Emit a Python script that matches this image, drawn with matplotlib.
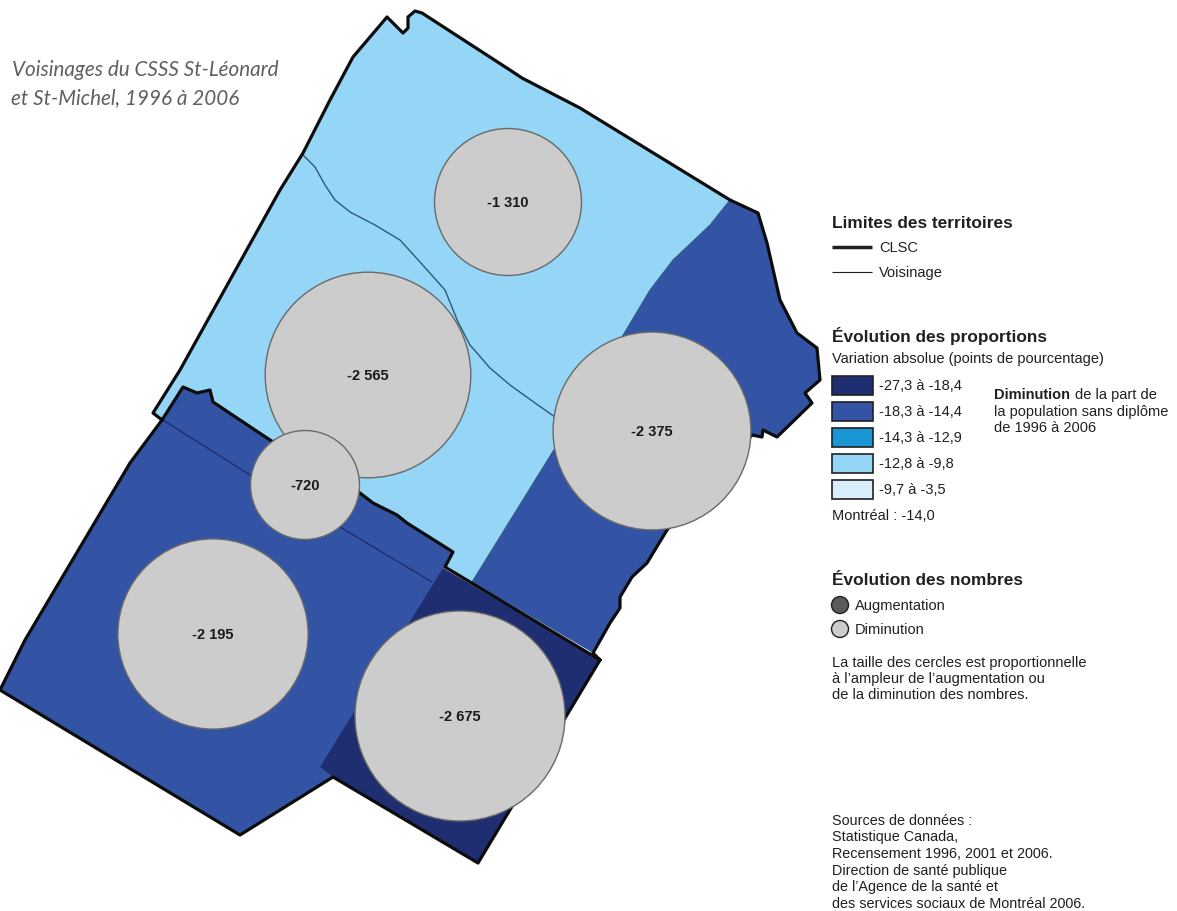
import numpy as np
import matplotlib.pyplot as plt
from matplotlib.patches import Polygon, Circle, Rectangle

plt.rcParams['font.family'] = ['Liberation Sans', 'DejaVu Sans']

# map shapes (pixel coords)
north_shape = [(153,413),(180,370),(280,190),(303,153),(330,100),(353,57),(387,17),(403,33),(408,28),(408,17),
               (415,11),(422,13),(513,72),(522,78),(580,108),(730,200),(710,225),(673,260),(650,290),(622,337),
               (555,448),(472,582),(445,567),(453,552),(407,523),(397,515),(373,503),(360,493),(270,440),(240,420),
               (213,402),(210,390),(197,393),(183,387),(162,420)]
east_shape = [(730,200),(758,213),(767,243),(780,300),(797,333),(817,348),(820,380),(805,393),(812,403),(777,437),
              (763,430),(762,437),(752,435),(667,530),(647,563),(632,577),(620,597),(620,608),(610,623),(593,653),
              (472,582),(555,448),(622,337),(650,290),(673,260),(710,225)]
west_shape = [(162,420),(183,387),(197,393),(210,390),(213,402),(240,420),(270,440),(360,493),(373,503),(397,515),
              (407,523),(453,552),(445,567),(443,568),(500,700),(333,778),(240,835),(0,690),(25,640),(130,463)]
south_shape = [(443,568),(600,660),(478,863),(333,777),(320,767)]

# thick CLSC limits
clsc_outer = [(162,420),(153,413),(180,370),(280,190),(303,153),(330,100),(353,57),(387,17),(403,33),(408,28),(408,17),
              (415,11),(422,13),(513,72),(522,78),(580,108),(730,200),(758,213),(767,243),(780,300),(797,333),(817,348),
              (820,380),(805,393),(812,403),(777,437),(763,430),(762,437),(752,435),(667,530),(647,563),(632,577),
              (620,597),(620,608),(610,623),(593,653),(600,660),(478,863),(333,777),(240,835),(0,690),(25,640),
              (130,463),(162,420),(183,387),(197,393),(210,390),(213,402),(240,420),(270,440),(360,493),(373,503),
              (397,515),(407,523),(453,552),(445,567),(600,660)]

# thin neighbourhood limits
voisinage_north = [(303,155),(315,167),(325,185),(335,200),(350,212),(375,225),(400,240),(420,262),(445,290),
                   (458,322),(470,345),(490,368),(510,385),(535,403),(555,417)]
voisinage_west = [(163,420),(250,475),(340,527),(432,582)]
voisinage_east = [(730,200),(710,225),(673,260),(650,290),(622,337),(555,448),(472,582)]

# circles
circle_values = [-1310, -2565, -720, -2375, -2195, -2675]
circle_labels = ['-1 310', '-2 565', '-720', '-2 375', '-2 195', '-2 675']
circle_x = [508, 368, 305, 652, 213, 460]
circle_y = [202, 375, 485, 431, 634, 716]

# legend
class_labels = ['-27,3 à -18,4', '-18,3 à -14,4', '-14,3 à -12,9', '-12,8 à -9,8', '-9,7 à -3,5']
class_colors = ['#1f2e70', '#3353a4', '#1b96d4', '#95d5f5', '#d8eefa']

fig = plt.figure(figsize=(11.77,9.11), dpi=100)
ax = fig.add_axes([0,0,1,1])
ax.set_xlim(0,1177)
ax.set_ylim(911,0)
ax.axis('off')

ax.add_patch(Polygon(north_shape, closed=True, fc=class_colors[3], ec='none'))
ax.add_patch(Polygon(east_shape, closed=True, fc=class_colors[1], ec='none'))
ax.add_patch(Polygon(west_shape, closed=True, fc=class_colors[1], ec='none'))
ax.add_patch(Polygon(south_shape, closed=True, fc=class_colors[0], ec='none'))

ax.plot(*zip(*voisinage_north), color='#2d5a78', lw=1)
ax.plot(*zip(*voisinage_west), color='#1f2e70', lw=1)
ax.plot(*zip(*voisinage_east), color='#2d5a78', lw=0.7)
ax.plot(*zip(*clsc_outer), color='#0c0c0c', lw=2.3, solid_joinstyle='round')

for v,lab,x,y in zip(circle_values,circle_labels,circle_x,circle_y):
    r = 2.03*np.sqrt(abs(v))
    ax.add_patch(Circle((x,y), r, fc='#cccccc', ec='#6a6a6a', lw=1, zorder=5))
    ax.text(x, y+1, lab, ha='center', va='center', fontsize=10.5, fontweight='bold', color='#1a1a1a', zorder=6)

# title
ax.text(12, 76, 'Voisinages du CSSS St-Léonard', family='Lato', style='italic', fontsize=14.9, color='#5f5f5f')
ax.text(11, 104, 'et St-Michel, 1996 à 2006', family='Lato', style='italic', fontsize=14.9, color='#5f5f5f')

tc = '#231f20'
fs = 10.5
ax.text(832, 228, 'Limites des territoires', fontsize=12.4, fontweight='bold', color=tc)
ax.plot([832,872],[247,247], color='#231f20', lw=2.5, solid_capstyle='butt')
ax.text(879, 252, 'CLSC', fontsize=fs, color=tc)
ax.plot([832,872],[272,272], color='#231f20', lw=0.8, solid_capstyle='butt')
ax.text(879, 277, 'Voisinage', fontsize=fs, color=tc)

ax.text(832, 342, 'Évolution des proportions', fontsize=12.4, fontweight='bold', color=tc)
ax.text(832, 363, 'Variation absolue (points de pourcentage)', fontsize=fs, color=tc)
for i,(lab,c) in enumerate(zip(class_labels,class_colors)):
    ax.add_patch(Rectangle((832,375.5+26*i), 41, 19.5, fc=c, ec='#231f20', lw=1.2))
    ax.text(879, 390+26*i, lab, fontsize=fs, color=tc)
ax.text(832, 520, 'Montréal : -14,0', fontsize=fs, color=tc)

ax.text(994, 399, 'Diminution', fontsize=fs, fontweight='bold', color=tc)
ax.text(1075, 399, 'de la part de', fontsize=fs, color=tc)
ax.text(994, 416, 'la population sans diplôme', fontsize=fs, color=tc)
ax.text(994, 432, 'de 1996 à 2006', fontsize=fs, color=tc)

ax.text(832, 585, 'Évolution des nombres', fontsize=12.4, fontweight='bold', color=tc)
ax.add_patch(Circle((840,605), 8.5, fc='#5a5a5a', ec='#231f20', lw=1))
ax.text(855, 610, 'Augmentation', fontsize=fs, color=tc)
ax.add_patch(Circle((840,629), 8.5, fc='#cccccc', ec='#231f20', lw=1))
ax.text(855, 634, 'Diminution', fontsize=fs, color=tc)

note = ['La taille des cercles est proportionnelle', 'à l’ampleur de l’augmentation ou', 'de la diminution des nombres.']
for i,t in enumerate(note):
    ax.text(832, 667+16*i, t, fontsize=fs, color=tc)

sources = ['Sources de données :', 'Statistique Canada,', 'Recensement 1996, 2001 et 2006.',
           'Direction de santé publique', 'de l’Agence de la santé et', 'des services sociaux de Montréal 2006.']
for i,t in enumerate(sources):
    ax.text(832, 825+16.5*i, t, fontsize=10.4, color=tc)

plt.savefig('out.png', dpi=100)
